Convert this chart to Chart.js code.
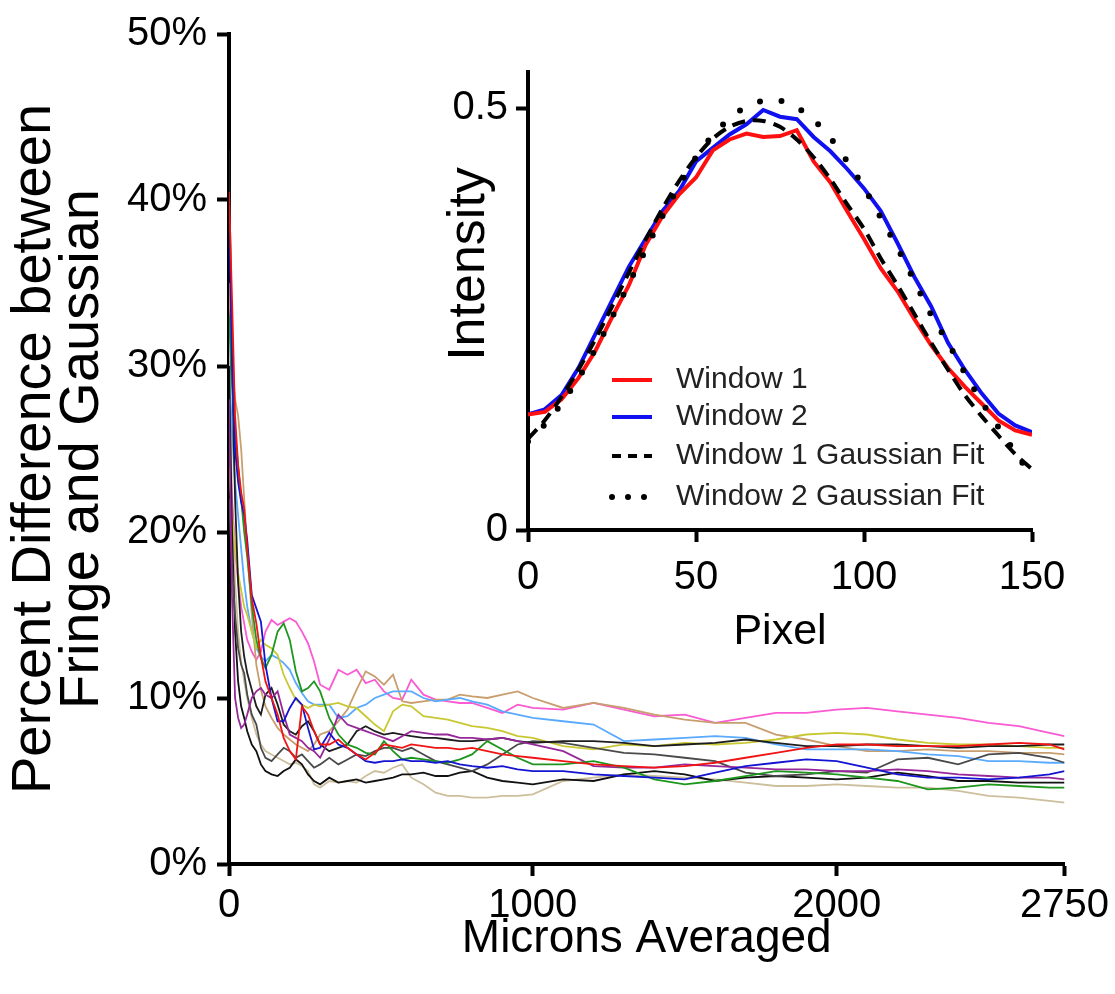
<!DOCTYPE html>
<html>
<head>
<meta charset="utf-8">
<script src="https://cdn.jsdelivr.net/npm/chart.js@4/dist/chart.umd.min.js"></script>
<style>
    body { margin: 0; background: #fff; }
    #wrap { position: relative; width: 1115px; height: 994px; }
    #mainChart { position: absolute; left: 0; top: 0; }
    #insetChart { position: absolute; left: 420px; top: 40px; }
</style>
</head>
<body>
<div id="wrap">
    <canvas id="mainChart" width="1115" height="994"></canvas>
    <canvas id="insetChart" width="695" height="620"></canvas>
</div>
<script>
// main plot: percent difference vs microns averaged
const microns = [0, 10, 20, 30, 40, 50, 60, 75, 90, 105, 120, 140, 160, 180, 200, 220, 240, 260, 280, 300,
    330, 360, 390, 420, 450, 480, 510, 540, 570, 600, 640, 680, 720, 760, 800, 850, 900, 950, 1000,
    1100, 1200, 1300, 1400, 1500, 1600, 1700, 1800, 1900, 2000, 2100, 2200, 2300, 2400, 2500, 2600, 2700, 2750];
const micronTicks = [0, 1000, 2000, 2750];
const percentTicks = [0, 10, 20, 30, 40, 50];

const pinkVals = [26, 22, 19, 17, 15.5, 14.5, 13.5, 12.8, 12.3, 12.8,
    14.0, 14.7, 14.4, 14.6, 14.8, 14.6, 14.0, 13.3, 12.2, 10.8,
    10.5, 11.7, 11.4, 11.7, 10.9, 11.1, 10.4, 10.0, 9.9, 11.1,
    10.2, 9.9, 9.8, 9.7, 9.7, 9.4, 9.1, 9.6, 9.4, 9.3,
    9.7, 9.3, 8.9, 9.0, 8.5, 8.8, 9.1, 9.1, 9.3, 9.4,
    9.2, 9.0, 8.8, 8.5, 8.3, 7.9, 7.7];
const tanVals = [35, 30, 28, 27, 25, 22, 19, 15, 12, 10.5,
    9.5, 8.8, 8.2, 7.8, 7.5, 7.2, 7.0, 6.8, 7.2, 7.8,
    8.0, 8.6, 9.3, 10.5, 11.6, 11.3, 10.8, 11.4, 9.8, 9.7,
    9.8, 9.9, 9.9, 10.2, 10.1, 10.0, 10.2, 10.4, 10.0, 9.4,
    9.7, 9.4, 9.0, 8.7, 8.5, 8.5, 7.8, 7.5, 7.1, 6.8,
    6.8, 6.9, 6.8, 6.8, 6.7, 6.7, 6.6];
const lightBlueVals = [30, 26, 23, 21, 19, 17, 15.5, 14, 13, 12.5,
    12.2, 12.6, 12.4, 12.1, 11.7, 10.9, 10.3, 9.8, 9.6, 9.6,
    9.6, 8.8, 8.9, 9.4, 9.6, 10.0, 10.2, 10.4, 10.4, 10.4,
    10.0, 9.8, 9.9, 10.0, 9.8, 9.6, 9.2, 9.0, 8.8, 8.6,
    8.4, 7.4, 7.5, 7.6, 7.7, 7.6, 7.2, 6.9, 6.9, 6.9,
    6.8, 6.6, 6.5, 6.2, 6.2, 6.1, 6.1];
const yellowVals = [24, 21, 19, 17.5, 16.5, 15.5, 15, 14, 13, 13.5,
    13.2, 13.0, 12.6, 11.4, 10.6, 9.9, 9.6, 9.4, 9.6, 9.5,
    9.6, 9.7, 9.5, 9.4, 8.9, 8.4, 8.0, 9.2, 9.6, 9.5,
    8.9, 8.8, 8.7, 8.5, 8.3, 8.2, 8.0, 7.7, 7.6, 7.1,
    6.9, 7.2, 7.1, 7.3, 7.2, 7.3, 7.5, 7.8, 7.9, 7.8,
    7.5, 7.3, 7.2, 7.2, 7.1, 7.0, 7.0];
const redVals = [40.5, 34, 27, 24, 22.4, 21.4, 19, 16, 14.5, 12.5,
    11, 10.0, 9.0, 7.6, 6.8, 6.3, 9.5, 9.0, 8.0, 7.2,
    7.2, 7.5, 7.0, 6.6, 6.3, 6.7, 7.2, 7.1, 7.0, 7.2,
    7.1, 7.0, 7.0, 6.9, 7.0, 6.8, 6.6, 6.5, 6.4, 6.2,
    6.0, 5.9, 5.8, 5.9, 6.1, 6.4, 6.7, 7.0, 7.2, 7.2,
    7.1, 7.1, 7.1, 7.2, 7.3, 7.2, 6.9];
const blueVals = [39.4, 30, 25, 23, 21.8, 21.0, 19.5, 16.2, 15.4, 14.6,
    12.0, 10.0, 8.6, 8.6, 9.4, 10.0, 9.6, 8.2, 6.9, 7.0,
    7.9, 7.2, 7.0, 6.6, 6.2, 6.1, 6.2, 6.2, 6.3, 6.2,
    6.2, 6.1, 6.2, 6.0, 5.9, 5.8, 5.9, 5.7, 5.6, 5.6,
    5.4, 5.3, 5.2, 5.1, 5.5, 5.9, 6.1, 6.3, 6.2, 5.8,
    5.4, 5.2, 5.2, 5.1, 5.2, 5.4, 5.6];
const greenVals = [33, 29, 26, 24, 22, 20, 18.5, 15.6, 13.5, 12.4,
    11.8, 12.6, 14.0, 14.5, 13.5, 11.6, 10.4, 10.6, 11.0, 10.4,
    8.8, 7.8, 7.2, 7.0, 6.7, 6.6, 7.4, 6.8, 6.3, 6.4,
    6.3, 6.2, 6.1, 6.3, 6.6, 7.4, 6.9, 6.4, 6.0, 6.0,
    6.2, 5.8, 5.1, 4.8, 5.0, 5.3, 5.6, 5.5, 5.4, 5.2,
    5.0, 4.5, 4.6, 4.8, 4.7, 4.6, 4.6];
const purpleVals = [28, 16, 10, 8.8, 8.2, 8.4, 9.0, 10.0, 10.4, 10.6,
    10.2, 10.0, 10.4, 9.0, 7.8, 7.6, 7.4, 7.0, 6.8, 6.4,
    7.5, 9.0, 8.4, 8.2, 8.0, 7.8, 7.6, 7.4, 7.7, 8.0,
    7.9, 7.8, 7.8, 7.6, 7.6, 7.5, 7.6, 7.4, 7.2, 6.8,
    5.9, 5.8, 5.8, 6.0, 5.9, 5.8, 5.7, 5.7, 5.6, 5.6,
    5.7, 5.6, 5.4, 5.3, 5.2, 5.2, 5.1];
const blackVals = [43, 30, 22, 17, 14, 12.5, 11.5, 10.5, 9.5, 9.0,
    10.2, 10.6, 9.6, 8.4, 8.0, 7.8, 8.3, 8.6, 8.0, 7.2,
    6.8, 7.0, 7.2, 8.0, 8.3, 8.0, 7.8, 7.9, 7.8, 7.7,
    7.6, 7.6, 7.5, 7.4, 7.4, 7.5, 7.6, 7.4, 7.3, 7.4,
    7.4, 7.3, 7.1, 7.2, 7.3, 7.5, 7.3, 7.1, 7.1, 7.2,
    7.2, 7.1, 7.0, 7.1, 7.1, 7.2, 7.2];
const grayVals = [22, 18, 15, 13, 12, 11.5, 10.2, 9.0, 8.4, 7.0,
    6.4, 6.2, 6.6, 7.0, 6.8, 6.4, 6.6, 6.2, 5.8, 6.0,
    6.4, 6.0, 6.3, 6.6, 6.5, 6.8, 7.0, 7.0, 6.8, 7.0,
    6.6, 6.2, 6.0, 5.8, 5.6, 6.0, 6.6, 7.2, 7.4, 7.3,
    7.0, 6.7, 6.6, 6.4, 6.2, 5.5, 5.3, 5.4, 5.6, 5.5,
    6.3, 6.4, 6.0, 6.6, 6.7, 6.4, 6.1];
const darkVals = [30, 20, 14, 11, 9.5, 8.8, 8.0, 7.2, 6.8, 6.0,
    5.6, 5.4, 5.3, 5.6, 5.8, 6.3, 6.0, 5.4, 5.0, 4.8,
    5.2, 4.9, 5.0, 5.1, 4.9, 5.0, 5.1, 5.2, 5.4, 5.4,
    5.5, 5.3, 5.3, 5.5, 5.6, 5.2, 5.0, 4.9, 4.8, 5.1,
    5.0, 5.4, 5.6, 5.4, 5.0, 5.2, 5.3, 5.2, 5.1, 5.2,
    5.5, 5.3, 5.0, 5.0, 4.9, 4.9, 4.9];
const khakiVals = [32, 22, 17, 14, 12.2, 11.0, 10.0, 8.8, 7.8, 7.2,
    6.8, 6.6, 6.4, 6.2, 6.0, 6.1, 5.9, 5.6, 4.8, 4.6,
    5.0, 4.9, 5.0, 4.9, 5.3, 5.6, 5.5, 5.8, 6.0, 5.2,
    4.8, 4.3, 4.1, 4.1, 4.0, 4.0, 4.1, 4.1, 4.2, 5.0,
    5.2, 5.4, 5.3, 5.2, 5.1, 4.9, 4.7, 4.7, 4.8, 4.7,
    4.6, 4.6, 4.4, 4.1, 4.0, 3.8, 3.7];

// inset plot: intensity profile vs pixel
const pixels = [0, 5, 10, 15, 20, 25, 30, 35, 40, 45, 50, 55, 60, 65, 70, 75,
    80, 85, 90, 95, 100, 105, 110, 115, 120, 125, 130, 135, 140, 145, 150];
const pixelTicks = [0, 50, 100, 150];
const intensityTicks = [0, 0.5];
const windowOne = [0.137, 0.140, 0.155, 0.180, 0.212, 0.252, 0.290, 0.338, 0.372, 0.398,
    0.418, 0.450, 0.463, 0.470, 0.466, 0.467, 0.474, 0.437, 0.412, 0.378,
    0.345, 0.310, 0.283, 0.250, 0.219, 0.192, 0.170, 0.150, 0.130, 0.118, 0.113];
const windowTwo = [0.137, 0.143, 0.160, 0.192, 0.232, 0.272, 0.312, 0.345, 0.378, 0.402,
    0.437, 0.453, 0.469, 0.481, 0.498, 0.490, 0.487, 0.466, 0.449, 0.428,
    0.405, 0.378, 0.340, 0.300, 0.265, 0.222, 0.190, 0.162, 0.138, 0.124, 0.116];
const fitOne = [0.108, 0.130, 0.158, 0.190, 0.226, 0.265, 0.305, 0.344, 0.381, 0.414,
    0.442, 0.464, 0.478, 0.485, 0.485, 0.478, 0.463, 0.442, 0.416, 0.386,
    0.357, 0.322, 0.290, 0.256, 0.222, 0.190, 0.160, 0.135, 0.112, 0.090, 0.072];
const fitTwo = [0.105, 0.125, 0.150, 0.180, 0.214, 0.252, 0.292, 0.332, 0.372, 0.408,
    0.442, 0.468, 0.488, 0.502, 0.509, 0.509, 0.501, 0.486, 0.465, 0.437,
    0.406, 0.370, 0.334, 0.295, 0.255, 0.222, 0.186, 0.152, 0.122, 0.092, 0.063];

const FONT = '"Liberation Sans", Arial, sans-serif';

function pairs(xs, ys) {
    return xs.map((x, i) => ({ x, y: ys[i] }));
}

function mainLine(vals, color) {
    return {
        data: pairs(microns, vals),
        borderColor: color,
        borderWidth: 1.8,
        pointRadius: 0,
        tension: 0
    };
}

function axisStyle() {
    return {
        grid: { drawOnChartArea: false, drawTicks: true, tickLength: 12, tickWidth: 4, tickColor: '#000' },
        border: { display: true, color: '#000', width: 4 }
    };
}

new Chart(document.getElementById('mainChart'), {
    type: 'line',
    data: {
        datasets: [
            mainLine(redVals, '#f01414'),
            mainLine(blueVals, '#1414d2'),
            mainLine(greenVals, '#1e961e'),
            mainLine(purpleVals, '#96289a'),
            mainLine(blackVals, '#1e1e1e'),
            mainLine(grayVals, '#4a4a4a'),
            mainLine(darkVals, '#111111'),
            mainLine(yellowVals, '#c8c832'),
            mainLine(lightBlueVals, '#5aaaff'),
            mainLine(tanVals, '#c89e6e'),
            mainLine(pinkVals, '#fa5ad2'),
            mainLine(khakiVals, '#cdbf9c')
        ]
    },
    options: {
        responsive: false,
        animation: false,
        layout: { padding: { top: 28, right: 49, bottom: 0, left: 0 } },
        plugins: { legend: { display: false }, tooltip: { enabled: false } },
        scales: {
            x: {
                type: 'linear',
                min: 0,
                max: 2750,
                afterBuildTicks: s => { s.ticks = micronTicks.map(v => ({ value: v })); },
                afterFit: s => { s.height = 130; },
                ticks: { color: '#000', font: { family: FONT, size: 40 }, padding: 6, maxRotation: 0, autoSkip: false, callback: v => String(v) },
                title: { display: true, text: 'Microns Averaged', color: '#000', font: { family: FONT, size: 46, lineHeight: 1.1 }, padding: { top: 0, bottom: 29 } },
                ...axisStyle()
            },
            y: {
                min: 0,
                max: 50,
                afterBuildTicks: s => { s.ticks = percentTicks.map(v => ({ value: v })); },
                afterFit: s => { s.width = 229; },
                ticks: { color: '#000', font: { family: FONT, size: 40 }, padding: 10, callback: v => v + '%' },
                title: {
                    display: true,
                    text: ['Percent Difference between', 'Fringe and Gaussian'],
                    color: '#000',
                    font: { family: FONT, size: 56, lineHeight: 0.85 },
                    padding: { top: 11, bottom: 0 }
                },
                ...axisStyle()
            }
        }
    }
});

const insetExtras = {
    id: 'insetExtras',
    afterDatasetsDraw(chart) {
        const ctx = chart.ctx;
        const rows = [340, 377, 416, 457];
        ctx.save();
        chart.data.datasets.forEach((ds, i) => {
            const y = rows[i];
            ctx.strokeStyle = ds.borderColor;
            ctx.lineWidth = ds.borderWidth;
            ctx.lineCap = ds.borderCapStyle || 'butt';
            ctx.setLineDash(ds.legendDash || []);
            ctx.beginPath();
            ctx.moveTo(192, y);
            ctx.lineTo(232, y);
            ctx.stroke();
            ctx.setLineDash([]);
            ctx.fillStyle = '#222';
            ctx.font = '30px ' + FONT;
            ctx.textBaseline = 'middle';
            ctx.textAlign = 'left';
            ctx.fillText(ds.label, 256, y);
        });
        // y axis title, sits a little above the middle of the axis
        ctx.translate(50, 224);
        ctx.rotate(-Math.PI / 2);
        ctx.fillStyle = '#000';
        ctx.font = '52px ' + FONT;
        ctx.textAlign = 'center';
        ctx.textBaseline = 'middle';
        ctx.fillText('Intensity', 0, 0);
        ctx.restore();
    }
};

new Chart(document.getElementById('insetChart'), {
    type: 'line',
    data: {
        datasets: [
            { label: 'Window 1', data: pairs(pixels, windowOne), borderColor: '#ff1010', borderWidth: 4, pointRadius: 0, tension: 0, order: 2 },
            { label: 'Window 2', data: pairs(pixels, windowTwo), borderColor: '#1010f0', borderWidth: 4, pointRadius: 0, tension: 0, order: 2 },
            { label: 'Window 1 Gaussian Fit', data: pairs(pixels, fitOne), borderColor: '#000', borderWidth: 4, borderDash: [13, 8], legendDash: [9, 7], pointRadius: 0, tension: 0.3, order: 1 },
            { label: 'Window 2 Gaussian Fit', data: pairs(pixels, fitTwo), borderColor: '#000', borderWidth: 6, borderDash: [0, 22], legendDash: [0, 16], borderCapStyle: 'round', pointRadius: 0, tension: 0.3, order: 1 }
        ]
    },
    plugins: [insetExtras],
    options: {
        responsive: false,
        animation: false,
        layout: { padding: { top: 25, right: 83, bottom: 0, left: 0 } },
        plugins: { legend: { display: false }, tooltip: { enabled: false } },
        scales: {
            x: {
                type: 'linear',
                min: 0,
                max: 150,
                afterBuildTicks: s => { s.ticks = pixelTicks.map(v => ({ value: v })); },
                afterFit: s => { s.height = 130; },
                ticks: { color: '#000', font: { family: FONT, size: 40 }, padding: 12, maxRotation: 0, callback: v => String(v) },
                title: { display: true, text: 'Pixel', color: '#000', font: { family: FONT, size: 43, lineHeight: 1.1 }, padding: { top: 0, bottom: 4 } },
                ...axisStyle()
            },
            y: {
                min: 0,
                max: 0.543,
                afterBuildTicks: s => { s.ticks = intensityTicks.map(v => ({ value: v })); },
                afterFit: s => { s.width = 108; },
                ticks: { color: '#000', font: { family: FONT, size: 40 }, padding: 8 },
                title: { display: false },
                ...axisStyle()
            }
        }
    }
});
</script>
</body>
</html>
